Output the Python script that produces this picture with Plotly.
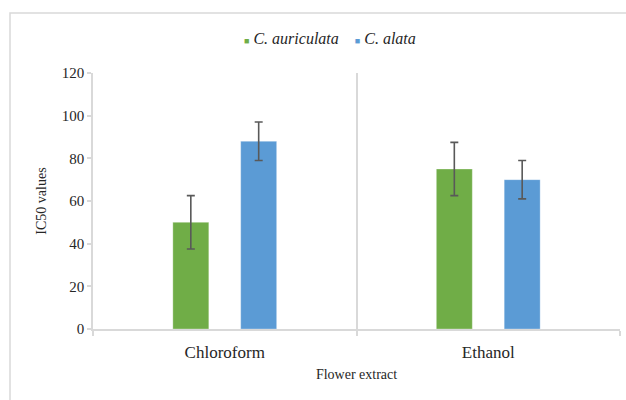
import plotly.graph_objects as go

categories = ["Chloroform", "Ethanol"]
auriculata_vals = [50, 75]
auriculata_err = [12.5, 12.5]
alata_vals = [88, 70]
alata_err = [9, 9]
series_names = ["C. auriculata", "C. alata"]

FONT = "Liberation Serif, 'DejaVu Serif', serif"
GREEN = "#70AD47"
BLUE = "#5B9BD5"
ERR = "#595959"
GRID = "#D9D9D9"
TXT = "#262626"

fig = go.Figure()
fig.add_trace(go.Bar(
    x=categories, y=auriculata_vals, name=series_names[0],
    marker=dict(color=GREEN, line=dict(color="rgba(255,255,255,0.5)", width=0.6)),
    error_y=dict(type="data", array=auriculata_err, visible=True, color=ERR, thickness=1.6, width=4),
))
fig.add_trace(go.Bar(
    x=categories, y=alata_vals, name=series_names[1],
    marker=dict(color=BLUE, line=dict(color="rgba(255,255,255,0.5)", width=0.6)),
    error_y=dict(type="data", array=alata_err, visible=True, color=ERR, thickness=1.6, width=4),
))

ml, mr, mt, mb = 93, 6, 73, 70.5
W, H = 626, 400
pw, ph = W - ml - mr, H - mt - mb

def px_x(p):
    return (p - ml) / pw

def px_y(p):
    return (H - mb - p) / ph

legend_text = (
    f"<span style='color:{GREEN};font-size:9px'>■</span>&nbsp;<i>{series_names[0]}</i>"
    f"&nbsp;&nbsp;&nbsp;&nbsp;"
    f"<span style='color:{BLUE};font-size:9px'>■</span>&nbsp;<i>{series_names[1]}</i>"
)

fig.update_layout(
    width=W, height=H,
    margin=dict(l=ml, r=mr, t=mt, b=mb),
    paper_bgcolor="white", plot_bgcolor="white",
    font=dict(family=FONT, color=TXT),
    barmode="group", bargap=0.485, bargroupgap=0.47,
    showlegend=False,
    xaxis=dict(
        type="category", tickson="boundaries", ticks="outside", ticklen=5,
        tickcolor=GRID, tickwidth=1.5,
        showgrid=True, gridcolor=GRID, gridwidth=1.5,
        showline=True, linecolor=GRID, linewidth=1.5,
        tickfont=dict(family=FONT, size=17, color=TXT),
        ticklabelstandoff=7,
        title=dict(text="Flower extract", font=dict(family=FONT, size=14, color=TXT), standoff=8),
        fixedrange=True,
    ),
    yaxis=dict(
        range=[0, 120], dtick=20, showgrid=False, zeroline=False,
        ticks="outside", ticklen=4, tickcolor=GRID, tickwidth=1.5,
        showline=True, linecolor=GRID, linewidth=1.5,
        tickfont=dict(family=FONT, size=15, color=TXT),
        title=dict(text="IC50 values", font=dict(family=FONT, size=14, color=TXT), standoff=12),
        fixedrange=True,
    ),
    annotations=[dict(
        text=legend_text, xref="paper", yref="paper",
        x=px_x(330), y=px_y(38), xanchor="center", yanchor="middle",
        showarrow=False, font=dict(family=FONT, size=16, color=TXT),
    )],
    shapes=[dict(
        type="rect", xref="paper", yref="paper",
        x0=px_x(10), x1=px_x(640), y0=px_y(410), y1=px_y(13),
        line=dict(color=GRID, width=1.5), fillcolor="rgba(0,0,0,0)", layer="below",
    )],
)

fig.write_html("out.html", config={"displayModeBar": False},
               post_script="document.body.style.margin='0';")
